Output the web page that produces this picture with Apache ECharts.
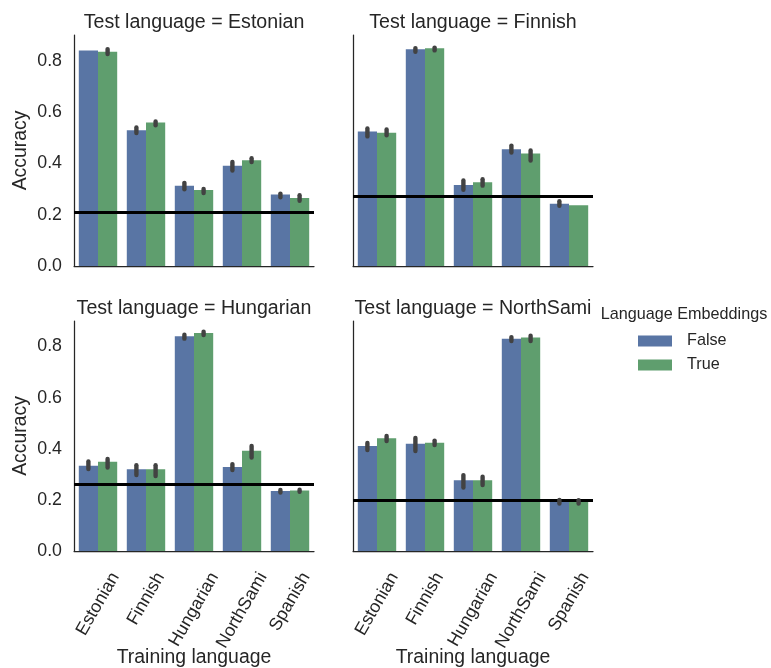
<!DOCTYPE html>
<html><head><meta charset="utf-8">
<script src="https://cdn.jsdelivr.net/npm/echarts@6/dist/echarts.min.js"></script>
<style>html,body{margin:0;padding:0;background:#fff}#c{width:771px;height:668px}</style>
</head><body><div id="c"></div>
<script>
// ---------------- data ----------------
const categories = ['Estonian', 'Finnish', 'Hungarian', 'NorthSami', 'Spanish'];
const testLanguages = ['Estonian', 'Finnish', 'Hungarian', 'NorthSami'];
const seriesNames = ['False', 'True'];
const yTicks = [0.0, 0.2, 0.4, 0.6, 0.8];

// mean accuracy per training language, for each test language
const estFalse = [0.840, 0.529, 0.313, 0.391, 0.279];
const estTrue  = [0.835, 0.559, 0.296, 0.412, 0.265];
const finFalse = [0.524, 0.844, 0.316, 0.455, 0.243];
const finTrue  = [0.519, 0.848, 0.326, 0.438, 0.237];
const hunFalse = [0.334, 0.320, 0.840, 0.329, 0.235];
const hunTrue  = [0.349, 0.320, 0.853, 0.392, 0.237];
const samFalse = [0.411, 0.420, 0.277, 0.831, 0.196];
const samTrue  = [0.441, 0.424, 0.277, 0.835, 0.195];

// chance baseline per test language
const chance = [0.206, 0.271, 0.257, 0.198];

// confidence intervals (low / high)
const estFalseLo = [null, 0.518, 0.299, 0.372, 0.268];
const estFalseHi = [null, 0.540, 0.324, 0.405, 0.282];
const estTrueLo  = [0.826, 0.548, 0.284, 0.405, 0.254];
const estTrueHi  = [0.845, 0.563, 0.300, 0.420, 0.276];
const finFalseLo = [0.505, 0.835, 0.297, 0.442, 0.235];
const finFalseHi = [0.536, 0.849, 0.333, 0.469, 0.252];
const finTrueLo  = [0.509, 0.840, 0.313, 0.411, null];
const finTrueHi  = [0.532, 0.851, 0.338, 0.450, null];
const hunFalseLo = [0.321, 0.297, 0.831, 0.317, 0.229];
const hunFalseHi = [0.350, 0.336, 0.846, 0.340, 0.239];
const hunTrueLo  = [0.327, 0.293, 0.845, 0.366, 0.232];
const hunTrueHi  = [0.360, 0.336, 0.858, 0.411, 0.240];
const samFalseLo = [0.395, 0.391, 0.248, 0.822, 0.186];
const samFalseHi = [0.423, 0.442, 0.297, 0.837, 0.200];
const samTrueLo  = [0.430, 0.415, 0.258, 0.822, 0.186];
const samTrueHi  = [0.450, 0.432, 0.291, 0.842, 0.199];

// ---------------- chart ----------------
const panels = [
  {f: estFalse, t: estTrue, fLo: estFalseLo, fHi: estFalseHi, tLo: estTrueLo, tHi: estTrueHi},
  {f: finFalse, t: finTrue, fLo: finFalseLo, fHi: finFalseHi, tLo: finTrueLo, tHi: finTrueHi},
  {f: hunFalse, t: hunTrue, fLo: hunFalseLo, fHi: hunFalseHi, tLo: hunTrueLo, tHi: hunTrueHi},
  {f: samFalse, t: samTrue, fLo: samFalseLo, fHi: samFalseHi, tLo: samTrueLo, tHi: samTrueHi}
];
const FONT = '"Liberation Sans", Arial, sans-serif';
const TXT = '#262626';
const BLUE = '#5975a4', GREEN = '#5f9e6e';
const TICK_FS = 17.8, LABEL_FS = 19.4, TITLE_FS = 19.6, LEG_FS = 16.2;
const grids = [
  {left: 74, top: 35, width: 240, height: 231},
  {left: 353, top: 35, width: 240, height: 231},
  {left: 74, top: 321, width: 240, height: 230},
  {left: 353, top: 321, width: 240, height: 230}
];

const chart = echarts.init(document.getElementById('c'), null, {renderer: 'canvas'});

const xAxes = [], yAxes = [], series = [], titles = [];
grids.forEach((g, k) => {
  const bottomRow = k >= 2, leftCol = k % 2 === 0;
  xAxes.push({
    gridIndex: k, type: 'category', data: categories,
    axisLine: {show: true, lineStyle: {color: TXT, width: 1.25}},
    axisTick: {show: false}, axisLabel: {show: false}, splitLine: {show: false},
    name: bottomRow ? 'Training language' : '', nameLocation: 'middle', nameGap: 97,
    nameTextStyle: {fontSize: LABEL_FS, color: TXT, fontFamily: FONT}
  });
  yAxes.push({
    gridIndex: k, type: 'value', min: 0, max: 0.9, interval: 0.2,
    axisLine: {show: true, lineStyle: {color: TXT, width: 1.25}},
    axisTick: {show: false}, splitLine: {show: false},
    axisLabel: {show: leftCol, margin: 12, fontSize: TICK_FS, color: TXT, fontFamily: FONT,
      formatter: v => (yTicks.some(t => Math.abs(t - v) < 1e-6) ? v.toFixed(1) : '')},
    name: leftCol ? 'Accuracy' : '', nameLocation: 'middle', nameGap: 44,
    nameTextStyle: {fontSize: LABEL_FS, color: TXT, fontFamily: FONT}
  });
  const p = panels[k];
  series.push({
    name: seriesNames[0], type: 'bar', xAxisIndex: k, yAxisIndex: k, data: p.f,
    itemStyle: {color: BLUE}, barGap: '0%', barCategoryGap: '20%', silent: true
  });
  series.push({
    name: seriesNames[1], type: 'bar', xAxisIndex: k, yAxisIndex: k, data: p.t,
    itemStyle: {color: GREEN}, barGap: '0%', barCategoryGap: '20%', silent: true
  });
  const ciData = [];
  categories.forEach((c, i) => {
    if (p.fLo[i] !== null) ciData.push([i, -1, p.fLo[i], p.fHi[i]]);
    if (p.tLo[i] !== null) ciData.push([i, 1, p.tLo[i], p.tHi[i]]);
  });
  series.push({
    name: 'ci' + k, type: 'custom', xAxisIndex: k, yAxisIndex: k, z: 5, silent: true,
    encode: {x: 0, y: [2, 3]},
    data: ciData,
    renderItem: (params, api) => {
      const ci = api.value(0), side = api.value(1);
      const band = api.size([1, 0])[0];
      const x = api.coord([ci, 0])[0] + side * 0.2 * band;
      const y1 = api.coord([ci, api.value(2)])[1];
      const y2 = api.coord([ci, api.value(3)])[1];
      return {type: 'line', shape: {x1: x, y1: y1, x2: x, y2: y2},
        style: {stroke: '#424242', lineWidth: 4.4, lineCap: 'round'}};
    }
  });
  series.push({
    name: 'chance' + k, type: 'line', xAxisIndex: k, yAxisIndex: k, data: [], z: 6, silent: true,
    markLine: {silent: true, symbol: 'none', label: {show: false},
      lineStyle: {color: '#000', width: 3, type: 'solid'}, data: [{yAxis: chance[k]}]}
  });
  titles.push({
    text: 'Test language = ' + testLanguages[k], left: g.left + g.width / 2, textAlign: 'center',
    top: k < 2 ? 13 : 299, padding: 0,
    textStyle: {fontSize: TITLE_FS, fontWeight: 'normal', color: TXT, fontFamily: FONT}
  });
});
titles.push({
  text: 'Language Embeddings', left: 684, textAlign: 'center', top: 307, padding: 0,
  textStyle: {fontSize: LEG_FS, fontWeight: 'normal', color: TXT, fontFamily: FONT}
});

chart.setOption({
  animation: false,
  backgroundColor: '#ffffff',
  title: titles,
  grid: grids,
  xAxis: xAxes,
  yAxis: yAxes,
  legend: {
    data: seriesNames, orient: 'vertical', left: 638, top: 333, padding: 0, icon: 'rect',
    itemWidth: 34, itemHeight: 11, itemGap: 8, selectedMode: false,
    textStyle: {fontSize: LEG_FS, color: TXT, fontFamily: FONT, padding: [0, 0, 0, 10]}
  },
  series: series
});

// rotated tick labels (matplotlib style: bounding box centred under tick)
const ctx = document.createElement('canvas').getContext('2d');
ctx.font = TICK_FS + 'px ' + FONT;
const graphics = [];
[2, 3].forEach(k => {
  const axisY = chart.convertToPixel({yAxisIndex: k}, 0);
  categories.forEach((c, i) => {
    const x = chart.convertToPixel({xAxisIndex: k}, c);
    const L = ctx.measureText(c).width;
    graphics.push({
      type: 'text', x: x + L / 4, y: axisY + 23, rotation: Math.PI / 3, silent: true,
      style: {text: c, align: 'right', verticalAlign: 'middle', fontSize: TICK_FS,
        fontFamily: FONT, fill: TXT}
    });
  });
});
chart.setOption({graphic: graphics});
</script>
</body></html>
